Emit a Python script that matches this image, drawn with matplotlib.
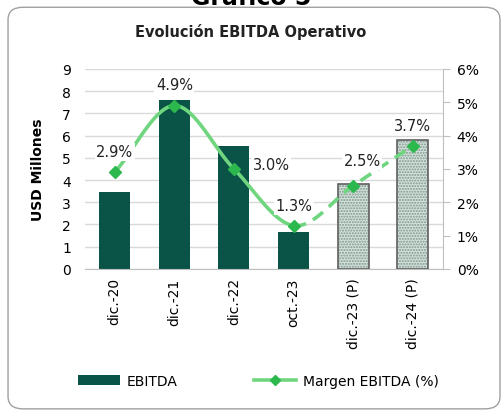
import numpy as np
import matplotlib.pyplot as plt
from matplotlib.patches import FancyBboxPatch, Patch
from matplotlib.lines import Line2D

categories = ["dic.-20", "dic.-21", "dic.-22", "oct.-23", "dic.-23 (P)", "dic.-24 (P)"]
ebitda = [3.45, 7.6, 5.55, 1.65, 3.8, 5.8]
margin = [2.9, 4.9, 3.0, 1.3, 2.5, 3.7]
margin_labels = ["2.9%", "4.9%", "3.0%", "1.3%", "2.5%", "3.7%"]
projected = [False, False, False, False, True, True]

BAR = "#0a5447"
LINE = "#6fd67f"
MARK = "#2cb84c"


def catmull_rom(xs, ys, n=30):
    xs = np.asarray(xs, float)
    ys = np.asarray(ys, float)
    px = np.concatenate([[2 * xs[0] - xs[1]], xs, [2 * xs[-1] - xs[-2]]])
    py = np.concatenate([[2 * ys[0] - ys[1]], ys, [2 * ys[-1] - ys[-2]]])
    segs = []
    for i in range(1, len(px) - 2):
        t = np.linspace(0, 1, n)[:, None]
        p0, p1, p2, p3 = [np.array([px[j], py[j]]) for j in (i - 1, i, i + 1, i + 2)]
        pts = 0.5 * ((2 * p1) + (-p0 + p2) * t + (2 * p0 - 5 * p1 + 4 * p2 - p3) * t ** 2
                     + (-p0 + 3 * p1 - 3 * p2 + p3) * t ** 3)
        segs.append(pts)
    return segs


plt.rcParams["font.family"] = ["DejaVu Sans"]
fig = plt.figure(figsize=(5.02, 4.14), dpi=100)

# outer frame
frame = FancyBboxPatch((0.016, 0.01), 0.98, 0.97,
                       boxstyle="round,pad=0,rounding_size=0.03",
                       transform=fig.transFigure, facecolor="none",
                       edgecolor="#a0a0a0", linewidth=1.0, zorder=-5)
fig.patches.append(frame)
fig.text(0.5, 1.005, "Gráfico 5", ha="center", va="center", fontsize=17, weight="bold")
fig.text(0.5, 0.922, "Evolución EBITDA Operativo", ha="center", va="center",
         fontsize=10.5, weight="bold", color="#222222")

ax = fig.add_axes([0.169, 0.348, 0.713, 0.483])
ax.patch.set_alpha(0)
x = np.arange(len(categories))
for xi, v, p in zip(x, ebitda, projected):
    if p:
        ax.bar(xi, v, width=0.52, color="#d3e3db", edgecolor="#7f958d", hatch="......",
               linewidth=0, zorder=2)
        ax.bar(xi, v, width=0.52, fill=False, edgecolor="#5f5f5f", linewidth=1.2, zorder=3)
    else:
        ax.bar(xi, v, width=0.52, color=BAR, zorder=2)

ax.set_xlim(-0.5, len(categories) - 0.5)
ax.set_ylim(0, 9)
ax.set_yticks(range(10))
ax.yaxis.grid(True, color="#d9d9d9", linewidth=1.0, zorder=0)
ax.set_axisbelow(True)
ax.tick_params(axis="y", length=0, labelsize=10, pad=10)
ax.tick_params(axis="x", length=0, labelsize=10, pad=6)
ax.set_xticks(x)
ax.set_xticklabels(categories, rotation=90)
for s in ("top", "left", "right"):
    ax.spines[s].set_visible(False)
ax.spines["bottom"].set_color("#bfbfbf")
ax.set_ylabel("USD Millones", fontsize=10, weight="bold", labelpad=12)

ax2 = ax.twinx()
ax2.set_ylim(0, 6)
ax2.set_yticks(range(7))
ax2.set_yticklabels([f"{i}%" for i in range(7)])
ax2.tick_params(axis="y", length=5, color="#bfbfbf", labelsize=10, pad=5)
for s in ("top", "left", "bottom"):
    ax2.spines[s].set_visible(False)
ax2.spines["right"].set_color("#bfbfbf")

segs = catmull_rom(x, margin)
solid = np.vstack(segs[:3])
dashed = np.vstack(segs[3:])
ax2.plot(solid[:, 0], solid[:, 1], color=LINE, linewidth=2.6, zorder=4, solid_capstyle="round")
ax2.plot(dashed[:, 0], dashed[:, 1], color=LINE, linewidth=2.6, linestyle=(0, (3.5, 2.2)), zorder=4)
ax2.plot(x, margin, linestyle="none", marker="D", markersize=6, color=MARK, zorder=5)

offsets = [(0, 0.62), (0, 0.63), (0.62, 0.12), (0, 0.6), (0.15, 0.75), (0, 0.6)]
for xi, m, lab, (dx, dy) in zip(x, margin, margin_labels, offsets):
    ax2.text(xi + dx, m + dy, lab, ha="center", va="center", fontsize=10.5, color="#222222",
             bbox=dict(facecolor="white", edgecolor="none", pad=1), zorder=6)

handles = [Patch(facecolor=BAR, label="EBITDA"),
           Line2D([0], [0], color=LINE, linewidth=2.6, marker="D", markersize=5,
                  markerfacecolor=MARK, markeredgecolor=MARK, label="Margen EBITDA (%)")]
fig.legend(handles=handles, loc="center", bbox_to_anchor=(0.515, 0.078), ncol=2,
           frameon=False, fontsize=10, handlelength=3, columnspacing=5.5, handletextpad=0.5)

fig.savefig("out.png", dpi=100, facecolor="white")
